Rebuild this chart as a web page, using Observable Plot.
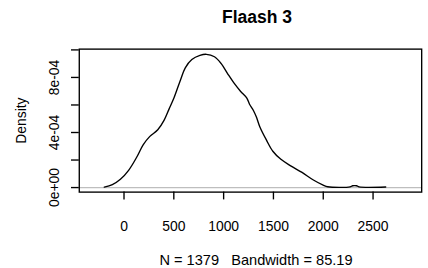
<!DOCTYPE html>
<html><head><meta charset="utf-8">
<script src="https://cdn.jsdelivr.net/npm/d3@7"></script>
<script src="https://cdn.jsdelivr.net/npm/@observablehq/plot@0.6"></script>
<style>
html,body{margin:0;padding:0;background:#fff;overflow:hidden;width:428px;height:268px}
#wrap{position:relative;width:428px;height:268px;overflow:hidden;font-family:"Liberation Sans",Arial,sans-serif;color:#000}
#title{position:absolute;left:157px;width:200px;top:9px;text-align:center;font-weight:bold;font-size:17.5px;line-height:17.5px;white-space:pre}
#caption{position:absolute;left:106px;width:300px;top:252.5px;text-align:center;font-size:14.6px;line-height:14.6px;white-space:pre}
#chart{position:absolute;left:0;top:0}
</style>
</head><body>
<div id="wrap"><div id="chart"></div><div id="title"></div><div id="caption"></div></div>
<script>
const titleText = "Flaash 3";
const captionText = "N = 1379   Bandwidth = 85.19";
const yAxisLabel = "Density";

// density curve
const xs = [-198, -117, -36, 46, 127, 192, 257, 339, 403, 452, 501, 566, 615, 681, 762, 827, 908, 974, 1038, 1103, 1169, 1233, 1260, 1299, 1330, 1364, 1429, 1494, 1575, 1673, 1787, 1901, 1999, 2045, 2269, 2295, 2335, 2360, 2627];
const dens = [0.3e-5, 2.1e-5, 6.0e-5, 1.25e-4, 2.2e-4, 3.1e-4, 3.7e-4, 4.2e-4, 4.9e-4, 5.7e-4, 6.5e-4, 7.8e-4, 8.7e-4, 9.3e-4, 9.6e-4, 9.68e-4, 9.5e-4, 9.02e-4, 8.3e-4, 7.6e-4, 7.0e-4, 6.5e-4, 6.05e-4, 5.6e-4, 5.1e-4, 4.4e-4, 3.46e-4, 2.64e-4, 2.05e-4, 1.58e-4, 1.1e-4, 5.5e-5, 1.8e-5, 6e-6, 5e-6, 1.3e-5, 1.3e-5, 5e-6, 4e-6];

const xTicks = [0, 500, 1000, 1500, 2000, 2500];
const yTicks = [0, 2e-4, 4e-4, 6e-4, 8e-4, 1e-3];
const yLabelValues = [0, 4e-4, 8e-4];
const yLabelTexts = ["0e+00", "4e-04", "8e-04"];

const data = xs.map((x, i) => ({x, d: dens[i]}));

document.getElementById("title").textContent = titleText;
document.getElementById("caption").textContent = captionText;

const plot = Plot.plot({
  width: 440, height: 268,
  marginLeft: 81, marginRight: 7, marginTop: 50, marginBottom: 71,
  x: {domain: [-449, 2988]},
  y: {domain: [-3.3e-5, 1.0057e-3]},
  style: {fontFamily: "'Liberation Sans', Arial, sans-serif", fontSize: "14px", color: "black", background: "white", overflow: "visible"},
  marks: [
    Plot.ruleY([0], {stroke: "#bebebe", strokeWidth: 1.2}),
    Plot.line(data, {x: "x", y: "d", stroke: "black", strokeWidth: 1.4, curve: "catmull-rom"}),
    Plot.frame({stroke: "black", strokeWidth: 1.4}),
    Plot.axisX(xTicks, {tickSize: 8, tickPadding: 22, tickFormat: d => String(d), fontSize: 14.3, strokeWidth: 1.4, label: null}),
    Plot.axisY(yTicks, {tickSize: 8, tickFormat: () => "", strokeWidth: 1.4, label: null}),
    Plot.text(yLabelValues, {y: d => d, text: (d, i) => yLabelTexts[i], frameAnchor: "left", dx: -25.5, rotate: -90, textAnchor: "middle", lineAnchor: "middle", fontSize: 14.3}),
    Plot.text([yAxisLabel], {frameAnchor: "left", dx: -59, rotate: -90, textAnchor: "middle", lineAnchor: "middle", fontSize: 14.3})
  ]
});
document.getElementById("chart").appendChild(plot);
</script>
</body></html>
